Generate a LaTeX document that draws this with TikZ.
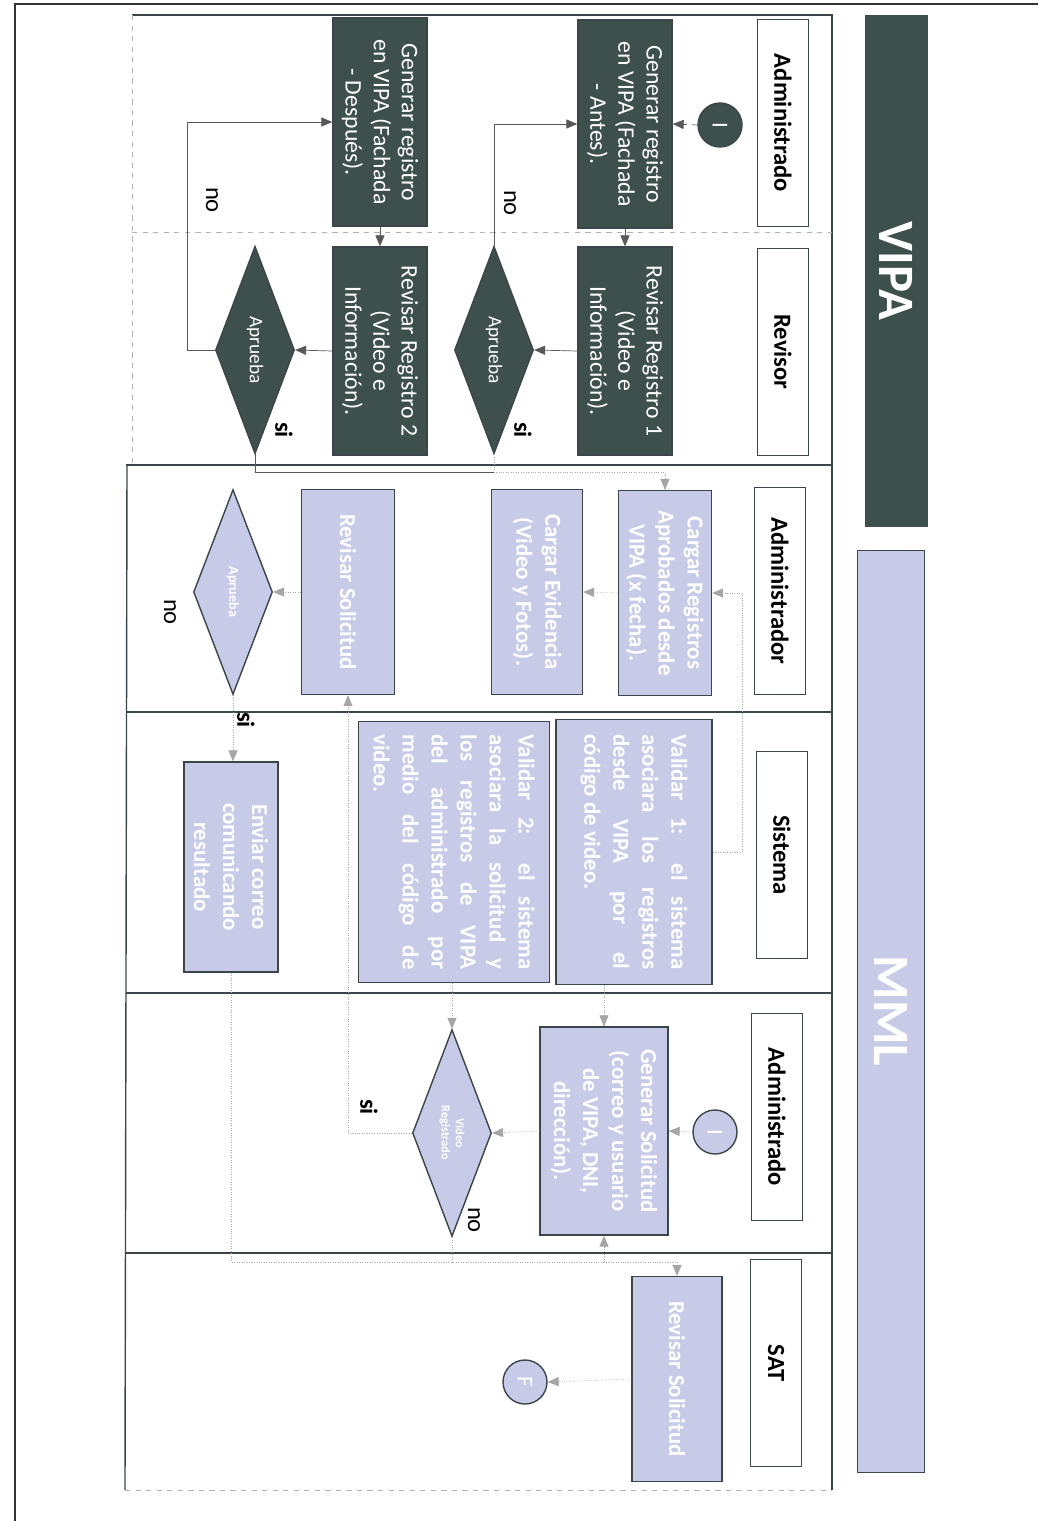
\documentclass[tikz,border=0pt]{standalone}
\usepackage{fontspec}
\setmainfont{Carlito}
\usetikzlibrary{shapes,arrows}
\definecolor{vipadark}{RGB}{62,80,76}
\definecolor{mmllight}{RGB}{200,203,232}
\definecolor{edgegray}{RGB}{60,70,74}
\tikzset{
  header/.style    = {draw=edgegray, thick, rectangle, rotate=-90, fill=white, minimum width=4.14cm, minimum height=1.02cm, font=\fontsize{14}{16}\selectfont\bfseries},
  band/.style      = {rectangle, rotate=-90, text=white, font=\fontsize{29}{32}\selectfont\bfseries},
  darkbox/.style   = {draw=edgegray, thick, rectangle, rotate=-90, fill=vipadark, text=white, align=center, minimum width=4.16cm, minimum height=1.88cm, font=\fontsize{13.5}{16}\selectfont},
  lightbox/.style  = {draw=edgegray, thick, rectangle, rotate=-90, fill=mmllight, text=white, align=center, minimum width=4.1cm, minimum height=1.86cm, font=\fontsize{13}{16.5}\selectfont\bfseries},
  decision/.style  = {draw=edgegray, thick, diamond, rotate=-90, aspect=2.7, inner sep=0pt, align=center, text=white, minimum width=4.15cm, minimum height=1.58cm},
  startnode/.style = {draw=edgegray, thick, circle, rotate=-90, text=white, minimum size=0.88cm, inner sep=0pt, font=\fontsize{13}{15}\selectfont},
  tag/.style       = {rotate=-90, font=\fontsize{14}{16}\selectfont},
  flow/.style      = {draw=black!65, thin},
  faint/.style     = {draw=gray!70, densely dotted}
}

\begin{document}
\begin{tikzpicture}[x=0.02cm, y=-0.02cm, >=triangle 45]
\useasboundingbox (0,0) rectangle (1038,1521);

% Page border
\draw[black!80, thick] (15,1521) -- (15,4) -- (1038,4);

% Bands
\node[band, fill=vipadark, minimum width=10.24cm, minimum height=1.26cm] (vipa) at (896,271) {VIPA};
\node[band, fill=mmllight, draw=edgegray, minimum width=18.44cm, minimum height=1.34cm] (mml) at (891,1011) {MML};

% Lanes
\draw[edgegray, very thick] (132,15) -- (832,15) -- (832,1490);
\draw[gray!60, dashed] (132,15) -- (132,465);
\draw[edgegray, thick] (127,465) -- (125,1490);
\draw[gray!60, dashed] (125,1490) -- (832,1490);
\draw[gray!60, dashed] (132,232) -- (832,232);
\foreach \y in {465,712,993,1253}
  \draw[edgegray, thick] (126,\y) -- (832,\y);

\node[header] (hadm1) at (783,123) {Administrado};
\node[header] (hrev) at (783,352) {Revisor};
\node[header] (hadm) at (780,591) {Administrador};
\node[header] (hsis) at (782,855) {Sistema};
\node[header] (hadm2) at (777,1117) {Administrado};
\node[header] (hsat) at (776,1363) {SAT};

% VIPA steps
\node[startnode, fill=vipadark] (ini1) at (720,125) {I};
\node[darkbox] (gen1) at (625,124) {Generar registro\\en VIPA (Fachada\\- Antes).};
\node[darkbox] (rev1) at (625,351) {Revisar Registro 1\\(Video e\\Información).};
\node[decision, fill=vipadark, font=\fontsize{11}{13}\selectfont] (apr1) at (494,350) {Aprueba};
\node[darkbox] (gen2) at (380,122) {Generar registro\\en VIPA (Fachada\\- Después).};
\node[darkbox] (rev2) at (380,351) {Revisar Registro 2\\(Video e\\Información).};
\node[decision, fill=vipadark, font=\fontsize{11}{13}\selectfont] (apr2) at (255,350) {Aprueba};

% MML steps
\node[lightbox] (cargar) at (665,593) {Cargar Registros\\Aprobados desde\\VIPA (x fecha).};
\node[lightbox, minimum height=1.82cm] (evid) at (537,592) {Cargar Evidencia\\(Video y Fotos).};
\node[lightbox] (revsol) at (348,592) {Revisar Solicitud};
\node[decision, fill=mmllight, font=\fontsize{8}{9}\selectfont\bfseries, minimum width=4.1cm] (apr3) at (233,592) {Aprueba};
\node[lightbox, minimum width=5.3cm, minimum height=3.12cm, text width=4.7cm, align=justify] (val1) at (634,852) {Validar 1: el sistema\linebreak asociara los registros\linebreak desde VIPA por el\linebreak código de video.};
\node[lightbox, minimum width=5.22cm, minimum height=3.82cm, text width=4.7cm, align=justify] (val2) at (454,852) {Validar 2: el sistema\linebreak asociara la solicitud y\linebreak los registros de VIPA\linebreak del administrado por\linebreak medio del código de\linebreak video.};
\node[lightbox, minimum width=4.2cm, minimum height=1.88cm] (envio) at (231,867) {Enviar correo\\comunicando\\resultado};
\node[startnode, fill=mmllight] (ini2) at (715,1132) {I};
\node[lightbox, minimum width=4.16cm, minimum height=2.56cm] (gensol) at (604,1131) {Generar Solicitud\\(correo y usuario\\de VIPA, DNI,\\dirección).};
\node[decision, fill=mmllight, font=\fontsize{7}{8}\selectfont\bfseries, minimum width=4.14cm] (vreg) at (452,1133) {Video\\Registrado};
\node[lightbox, minimum width=4.1cm, minimum height=1.8cm] (revsat) at (677,1379) {Revisar Solicitud};
\node[startnode, fill=mmllight] (fin) at (525,1382) {F};

% Labels
\node[tag] (no1) at (510,203) {no};
\node[tag, font=\fontsize{14}{16}\selectfont\bfseries] (si1) at (523,430) {si};
\node[tag] (no2) at (212,200) {no};
\node[tag, font=\fontsize{14}{16}\selectfont\bfseries] (si2) at (284,430) {si};
\node[tag] (no3) at (170,612) {no};
\node[tag, font=\fontsize{14}{16}\selectfont\bfseries] (si3) at (246,720) {si};
\node[tag, font=\fontsize{14}{16}\selectfont\bfseries] (si4) at (369,1107) {si};
\node[tag] (no4) at (474,1220) {no};

% Connections
\coordinate (join) at (494,472);
\coordinate (merge) at (231,1262);

\draw[flow, ->, dashed] (ini1.south) -- (gen1.north);
\draw[flow, ->] (gen1.east) -- (rev1.west);
\draw[flow, ->] (rev1.south) -- (apr1.north);
\draw[flow, ->] (apr1.west) |- (gen1.south);
\draw[flow, ->] (gen2.east) -- (rev2.west);
\draw[flow, ->] (rev2.south) -- (apr2.north);
\draw[flow, ->] (apr2.south) -- ++(-27,0) |- (gen2.south);
\draw[flow] (apr2.east) |- (join);
\draw[faint, ->] (apr1.east) -- (join) -| (cargar.west);

\draw[faint, ->] (cargar.south) -- (evid.north);
\draw[faint, ->] (val1.north) -- (742,852) |- (cargar.north);
\draw[faint, ->] (revsol.south) -- (apr3.north);
\draw[faint, ->] (apr3.east) -- (apr3.east |- envio.west);
\draw[faint, ->] (ini2.south) -- (gensol.north);
\draw[faint, ->] (gensol.south) -- (vreg.north);
\draw[faint, ->] (vreg.south) -| (revsol.east);
\draw[faint, ->] (vreg.west |- val2.east) -- (vreg.west);
\draw[faint, ->] (gensol.west |- val1.east) -- (gensol.west);
\draw[faint, ->] (envio.east) -- (merge) -| (revsat.west);
\draw[faint] (vreg.east) -- (vreg.east |- merge);
\draw[faint, ->] (gensol.east |- merge) -- (gensol.east);
\draw[faint, ->] (revsat.south) -- (fin.north);

\end{tikzpicture}
\end{document}
